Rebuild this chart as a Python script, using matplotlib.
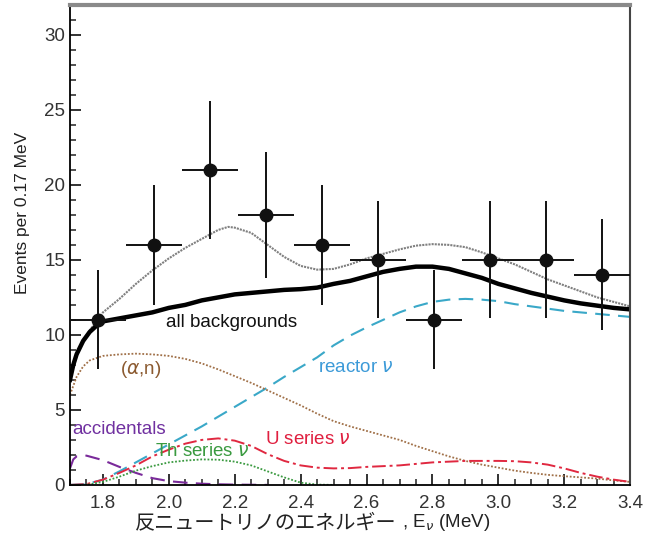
import matplotlib
matplotlib.use("Agg")
import matplotlib.pyplot as plt
from matplotlib.ticker import MultipleLocator
import numpy as np

plt.rcParams['font.family'] = ['Liberation Sans', 'Noto Sans CJK JP', 'DejaVu Sans']

# measured spectrum (bins of 0.17 MeV)
bin_centers = [1.785, 1.955, 2.125, 2.295, 2.465, 2.635, 2.805, 2.975, 3.145, 3.315]
counts = [11, 16, 21, 18, 16, 15, 11, 15, 15, 14]
count_err = [3.3, 4.0, 4.6, 4.2, 4.0, 3.9, 3.3, 3.9, 3.9, 3.7]
bin_half = [0.085] * 10

# curves
x_bg = [1.70, 1.71, 1.72, 1.74, 1.76, 1.78, 1.80, 1.85, 1.90, 1.95, 2.00, 2.05,
        2.10, 2.15, 2.20, 2.25, 2.30, 2.35, 2.40, 2.45, 2.50, 2.55, 2.60, 2.65,
        2.70, 2.75, 2.80, 2.85, 2.90, 2.95, 3.00, 3.05, 3.10, 3.15, 3.20, 3.25,
        3.30, 3.35, 3.40]
all_bg = [7.0, 8.0, 8.7, 9.6, 10.2, 10.6, 10.9, 11.1, 11.3, 11.5, 11.8, 12.0,
          12.3, 12.5, 12.7, 12.8, 12.9, 13.0, 13.05, 13.15, 13.4, 13.6, 13.9, 14.2,
          14.4, 14.55, 14.55, 14.4, 14.1, 13.8, 13.4, 13.1, 12.8, 12.55, 12.3, 12.1,
          11.95, 11.8, 11.7]

x_tot = [1.70, 1.72, 1.74, 1.76, 1.78, 1.80, 1.85, 1.90, 1.95, 2.00, 2.05, 2.10,
         2.15, 2.18, 2.20, 2.25, 2.30, 2.35, 2.40, 2.45, 2.50, 2.55, 2.60, 2.65,
         2.70, 2.75, 2.80, 2.85, 2.90, 2.95, 3.00, 3.05, 3.10, 3.15, 3.20, 3.25,
         3.30, 3.35, 3.40]
total = [7.0, 8.6, 9.6, 10.3, 10.9, 11.5, 12.4, 13.4, 14.3, 15.1, 15.8, 16.4,
         17.0, 17.2, 17.15, 16.8, 16.0, 15.2, 14.6, 14.35, 14.4, 14.7, 15.1, 15.4,
         15.7, 15.95, 16.05, 16.0, 15.85, 15.5, 15.1, 14.7, 14.2, 13.7, 13.3, 12.9,
         12.5, 12.2, 11.9]

x_an = [1.70, 1.72, 1.74, 1.76, 1.80, 1.85, 1.90, 1.95, 2.00, 2.05, 2.10, 2.15,
        2.20, 2.25, 2.30, 2.35, 2.40, 2.45, 2.50, 2.55, 2.60, 2.65, 2.70, 2.75,
        2.80, 2.85, 2.90, 2.95, 3.00, 3.05, 3.10, 3.15, 3.20, 3.25, 3.30, 3.35, 3.40]
alpha_n = [6.0, 7.2, 7.9, 8.3, 8.6, 8.7, 8.75, 8.7, 8.6, 8.4, 8.1, 7.7,
           7.25, 6.8, 6.3, 5.8, 5.3, 4.75, 4.25, 3.9, 3.6, 3.3, 3.0, 2.6,
           2.25, 1.9, 1.6, 1.35, 1.15, 0.95, 0.8, 0.67, 0.58, 0.5, 0.42, 0.3, 0.2]

x_main = [1.70, 1.75, 1.80, 1.85, 1.90, 1.95, 2.00, 2.05, 2.10, 2.15, 2.20, 2.25,
          2.30, 2.35, 2.40, 2.45, 2.50, 2.55, 2.60, 2.65, 2.70, 2.75, 2.80, 2.85,
          2.90, 2.95, 3.00, 3.05, 3.10, 3.15, 3.20, 3.25, 3.30, 3.35, 3.40]
reactor = [0.0, 0.05, 0.35, 0.9, 1.5, 2.1, 2.7, 3.3, 3.9, 4.55, 5.2, 5.85,
           6.5, 7.2, 7.85, 8.5, 9.3, 9.95, 10.5, 11.0, 11.5, 11.9, 12.2, 12.35,
           12.4, 12.35, 12.25, 12.05, 11.9, 11.75, 11.6, 11.5, 11.4, 11.3, 11.2]
u_series = [0.0, 0.05, 0.35, 0.8, 1.3, 1.9, 2.35, 2.75, 3.0, 3.1, 2.95, 2.6,
            2.05, 1.6, 1.3, 1.15, 1.1, 1.12, 1.2, 1.25, 1.3, 1.4, 1.5, 1.55,
            1.6, 1.6, 1.6, 1.58, 1.5, 1.35, 1.1, 0.8, 0.55, 0.35, 0.2]

x_acc = [1.70, 1.71, 1.72, 1.75, 1.80, 1.85, 1.90, 1.95, 2.00, 2.05, 2.10, 2.15, 2.20, 2.30]
accidentals = [1.1, 1.7, 1.9, 1.95, 1.65, 1.2, 0.8, 0.45, 0.25, 0.15, 0.08, 0.04, 0.02, 0.0]

x_th = [1.70, 1.75, 1.80, 1.85, 1.90, 1.95, 2.00, 2.05, 2.10, 2.15, 2.20, 2.25,
        2.30, 2.35, 2.40, 2.45, 2.50]
th_series = [0.0, 0.0, 0.2, 0.55, 0.95, 1.25, 1.5, 1.62, 1.7, 1.68, 1.55, 1.3,
             0.9, 0.5, 0.15, 0.02, 0.0]

fig = plt.figure(figsize=(6.45, 5.43), dpi=100)
ax = fig.add_axes([0.1085, 0.107, 0.8685, 0.884])

ax.plot(x_main, reactor, color='#3aa8c8', lw=1.5, ls=(0, (7, 4)))
ax.plot(x_an, alpha_n, color='#a07048', lw=1.3, ls=(0, (1, 1)))
ax.plot(x_acc, accidentals, color='#7a2a9a', lw=1.5, ls=(0, (7, 4)))
ax.plot(x_main, u_series, color='#e02840', lw=1.4, ls=(0, (7, 2, 1.5, 2)))
ax.plot(x_th, th_series, color='#3a9a40', lw=1.3, ls=(0, (1, 1)))
ax.plot(x_tot, total, color='#808080', lw=1.5, ls=(0, (1, 0.5)))
ax.plot(x_bg, all_bg, color='black', lw=3.2)

ax.errorbar(bin_centers, counts, xerr=bin_half, yerr=count_err, fmt='o',
            color='#111111', ms=9, elinewidth=1.4, capsize=0, zorder=5)

ax.text(1.99, 10.8, 'all backgrounds', fontsize=13.5, color='#111111', va='center')
ax.text(1.852, 7.7, r'($\alpha$,n)', fontsize=13.5, color='#8b5a30', va='center')
ax.text(2.453, 7.8, r'reactor $\nu$', fontsize=13.5, color='#3c9ad8', va='center')
ax.text(1.706, 3.7, 'accidentals', fontsize=13.5, color='#7030a0', va='center')
ax.text(1.958, 2.2, r'Th series $\nu$', fontsize=13.5, color='#3a9a40', va='center')
ax.text(2.292, 3.0, r'U series $\nu$', fontsize=13.5, color='#e02040', va='center')

ax.set_xlim(1.70, 3.40)
ax.set_ylim(0, 32)
ax.xaxis.set_major_locator(MultipleLocator(0.2))
ax.xaxis.set_minor_locator(MultipleLocator(0.05))
ax.yaxis.set_major_locator(MultipleLocator(5))
ax.yaxis.set_minor_locator(MultipleLocator(1))
ax.set_xticks(np.arange(1.8, 3.41, 0.2))
ax.set_xticklabels(['1.8', '2.0', '2.2', '2.4', '2.6', '2.8', '3.0', '3.2', '3.4'])
ax.tick_params(which='both', direction='in', top=False, right=False,
               labelsize=13.5, labelcolor='#333333', color='#222222')
ax.tick_params(which='major', length=8, width=1.3)
ax.tick_params(axis='x', which='major', pad=7)
ax.tick_params(which='minor', length=4.5, width=1.1)

ax.spines['top'].set_color('#8a8a8a')
ax.spines['top'].set_linewidth(3)
ax.spines['right'].set_color('#444444')
ax.spines['right'].set_linewidth(1.5)
ax.spines['left'].set_linewidth(1.3)
ax.spines['bottom'].set_linewidth(1.3)

ax.set_ylabel('Events per 0.17 MeV', fontsize=12.5, color='#222222', y=0.567, labelpad=10)

# x label: Japanese part and the E_nu part as two texts meeting at one point
fig.text(0.6155, 0.038, '反ニュートリノのエネルギー', fontsize=14.5,
         family=['Noto Sans CJK JP', 'DejaVu Sans'], color='#222222',
         ha='right', va='center')
fig.text(0.6155, 0.038, r' , E$_\nu$ (MeV)', fontsize=13.5, color='#222222',
         ha='left', va='center')

fig.savefig('out.png', dpi=100)
